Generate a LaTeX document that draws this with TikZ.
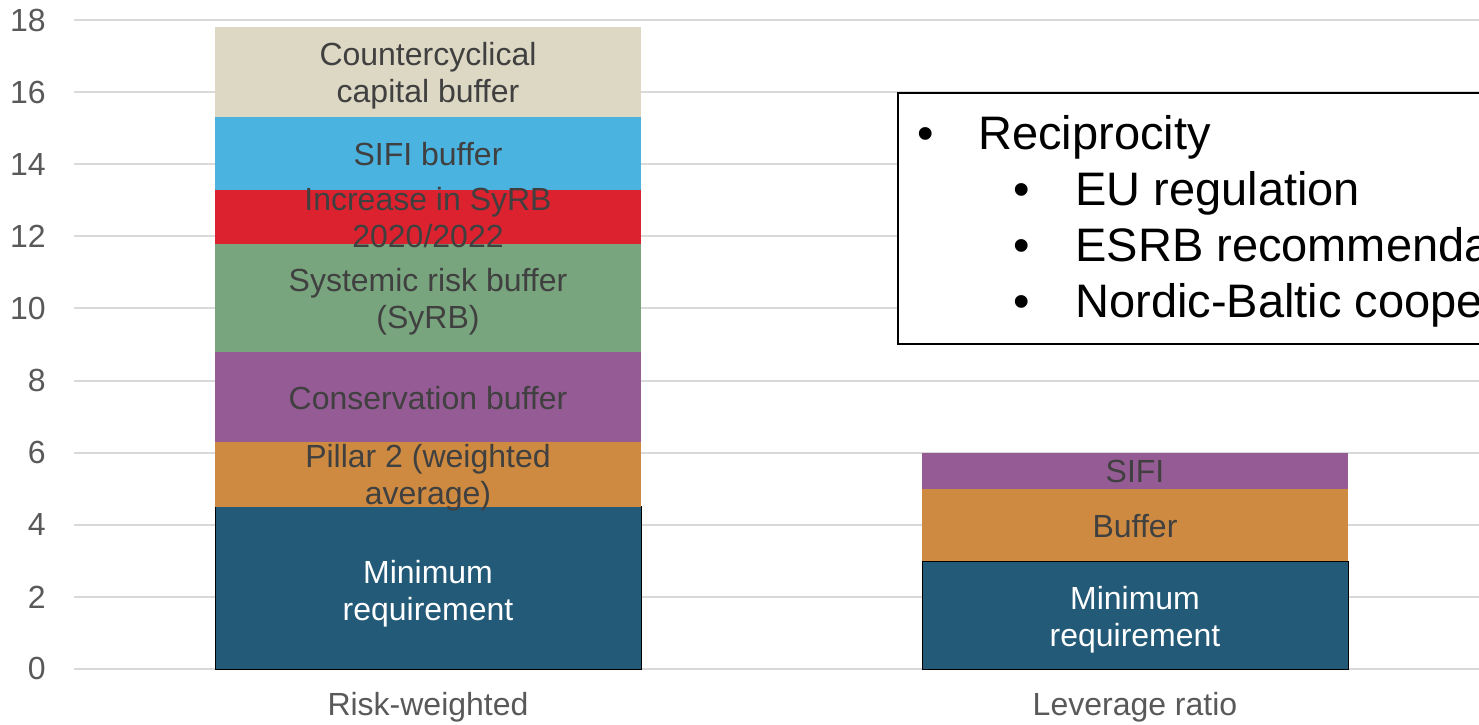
\documentclass[tikz,border=0pt]{standalone}
\usepackage{fontspec}
\setmainfont{Liberation Sans}

\definecolor{minblue}{HTML}{235A78}
\definecolor{pillarorange}{HTML}{CD8A40}
\definecolor{conspurple}{HTML}{955B94}
\definecolor{syrbgreen}{HTML}{78A57E}
\definecolor{incred}{HTML}{DC222F}
\definecolor{sifiblue}{HTML}{4AB3E0}
\definecolor{ccybbeige}{HTML}{DDD8C3}
\definecolor{gridgray}{HTML}{D9D9D9}
\definecolor{axisgray}{HTML}{595959}
\definecolor{labelgray}{HTML}{404040}

\tikzset{
  gridline/.style={draw=gridgray, line width=1pt},
  ticklabel/.style={anchor=east, text=axisgray, inner sep=0pt, font=\fontsize{16}{19}\selectfont},
  catlabel/.style={text=axisgray, inner sep=0pt, font=\fontsize{16}{19}\selectfont},
  seglabel/.style={text=labelgray, align=center, inner sep=0pt, font=\fontsize{16}{18.5}\selectfont},
  boxtext/.style={anchor=base west, inner sep=0pt, font=\fontsize{23.5}{28}\selectfont},
  boxbullet/.style={anchor=base, inner sep=0pt, font=\fontsize{23.5}{28}\selectfont},
}

\begin{document}
\begin{tikzpicture}[x=0.5pt, y=18.025pt]
\useasboundingbox (0,-1.553) rectangle (1479,18.557);
\clip (0,-1.553) rectangle (1479,18.557);

% grid and axis
\foreach \v in {0,2,...,18} {
  \draw[gridline] (74,\v) -- (1479,\v);
  \node[ticklabel] (tick\v) at (46,\v) {\v};
}

% risk-weighted bar
\fill[minblue, draw=black, line width=0.3pt] (215,0) rectangle (641,4.5);
\fill[pillarorange] (215,4.5) rectangle (641,6.3);
\fill[conspurple] (215,6.3) rectangle (641,8.8);
\fill[syrbgreen] (215,8.8) rectangle (641,11.8);
\fill[incred] (215,11.8) rectangle (641,13.3);
\fill[sifiblue] (215,13.3) rectangle (641,15.3);
\fill[ccybbeige] (215,15.3) rectangle (641,17.8);

\node[seglabel, text=white] (rwmin) at (428,2.1) {Minimum\\requirement};
\node[seglabel] (rwpillar) at (428,5.3) {Pillar 2 (weighted\\average)};
\node[seglabel] (rwcons) at (428,7.52) {Conservation buffer};
\node[seglabel] (rwsyrb) at (428,10.2) {Systemic risk buffer\\(SyRB)};
\node[seglabel] (rwinc) at (428,12.53) {Increase in SyRB\\2020/2022};
\node[seglabel] (rwsifi) at (428,14.28) {SIFI buffer};
\node[seglabel] (rwccyb) at (428,16.47) {Countercyclical\\capital buffer};

% leverage ratio bar
\fill[minblue, draw=black, line width=0.3pt] (922,0) rectangle (1348,3);
\fill[pillarorange] (922,3) rectangle (1348,5);
\fill[conspurple] (922,5) rectangle (1348,6);

\node[seglabel, text=white] (lrmin) at (1135,1.37) {Minimum\\requirement};
\node[seglabel] (lrbuf) at (1135,3.97) {Buffer};
\node[seglabel] (lrsifi) at (1135,5.47) {SIFI};

% categories
\node[catlabel] (catrw) at (428,-1.054) {Risk-weighted};
\node[catlabel] (catlr) at (1135,-1.054) {Leverage ratio};

% text box
\draw[fill=white, line width=0.8pt] (898,9.02) rectangle (1600,15.98);
\node[boxbullet] (b1) at (926,14.40) {•};
\node[boxtext] (t1) at (978,14.40) {Reciprocity};
\node[boxbullet] (b2) at (1022,12.86) {•};
\node[boxtext] (t2) at (1075,12.86) {EU regulation};
\node[boxbullet] (b3) at (1022,11.31) {•};
\node[boxtext] (t3) at (1075,11.31) {ESRB recommendations};
\node[boxbullet] (b4) at (1022,9.76) {•};
\node[boxtext] (t4) at (1075,9.76) {Nordic-Baltic cooperation};
\end{tikzpicture}
\end{document}
